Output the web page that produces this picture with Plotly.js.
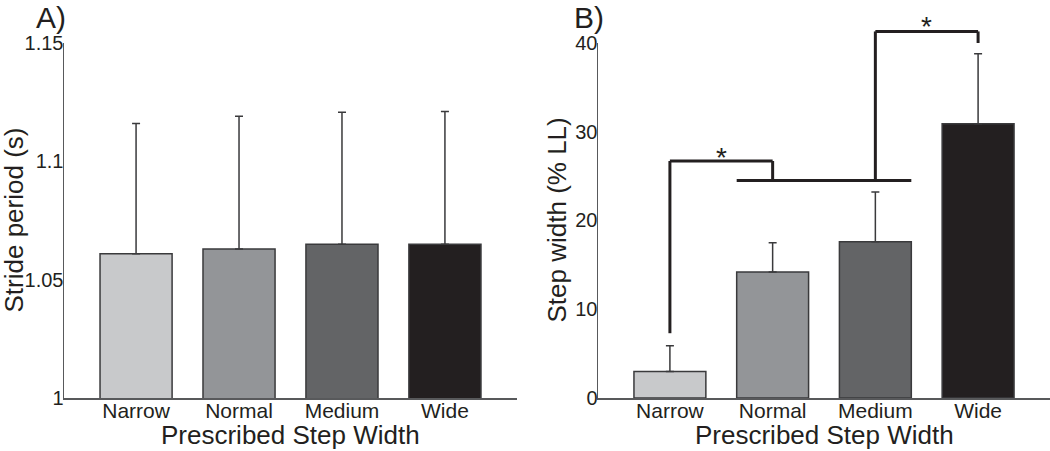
<!DOCTYPE html>
<html>
<head>
<meta charset="utf-8">
<script src="https://cdn.plot.ly/plotly-3.0.1.min.js"></script>
<style>html,body{margin:0;padding:0;background:#fff;}#chart{width:1050px;height:451px;}</style>
</head>
<body>
<div id="chart"></div>
<script>
// ---- data ----
var categories = ['Narrow', 'Normal', 'Medium', 'Wide'];
var barColors = ['#c8c9cb', '#939598', '#636466', '#231f20'];

var stridePeriod = [1.061, 1.063, 1.065, 1.065];
var stridePeriodSD = [0.055, 0.056, 0.0557, 0.056];

var stepWidth = [3.0, 14.2, 17.6, 30.9];
var stepWidthSD = [2.9, 3.3, 5.6, 7.9];

var strideTicks = [1, 1.05, 1.1, 1.15];
var strideTickText = ['1', '1.05', '1.1', '1.15'];
var stepTicks = [0, 10, 20, 30, 40];

// significance brackets (category index, value in % LL)
var bracket1X = [0, 0, 1, 1];
var bracket1Y = [7.3, 26.7, 26.7, 24.5];
var groupLineX = [0.65, 2.35];
var groupLineY = [24.5, 24.5];
var bracket2X = [2, 2, 3, 3];
var bracket2Y = [24.5, 41.3, 41.3, 40.0];
var starX = [0.5, 2.5];
var starY = [27.9, 42.6];

// ---- chart ----
var FONT = 'Liberation Sans, Arial, Helvetica, sans-serif';
var TXT = '#231f20';
var stepMax = 40;
var Y_DOMAIN = [0.1175, 0.9047];
var XA_DOMAIN = [64 / 1050, 517 / 1050];
var XB_DOMAIN = [598 / 1050, 1];

function zeros(n) { var a = []; for (var i = 0; i < n; i++) a.push(0); return a; }

function barTrace(y, err, xa, ya) {
  return {
    type: 'bar',
    x: categories,
    y: y,
    xaxis: xa, yaxis: ya,
    width: 0.7,
    marker: { color: barColors, line: { color: '#3a3a3c', width: 1.5 } },
    error_y: {
      type: 'data', symmetric: false, array: err, arrayminus: zeros(err.length),
      color: '#3a3a3c', thickness: 1.5, width: 4
    },
    showlegend: false,
    hoverinfo: 'x+y'
  };
}

var traces = [
  barTrace(stridePeriod, stridePeriodSD, 'x', 'y'),
  barTrace(stepWidth, stepWidthSD, 'x2', 'y2')
];

var shapes = [];
function addPolyline(xs, ys) {
  for (var i = 0; i < xs.length - 1; i++) {
    shapes.push({
      type: 'line', xref: 'x2', yref: 'y2 domain',
      x0: xs[i], x1: xs[i + 1], y0: ys[i] / stepMax, y1: ys[i + 1] / stepMax,
      line: { color: TXT, width: 3 }, layer: 'above'
    });
  }
}
addPolyline(bracket1X, bracket1Y);
addPolyline(groupLineX, groupLineY);
addPolyline(bracket2X, bracket2Y);

var annotations = [];
for (var i = 0; i < starX.length; i++) {
  annotations.push({
    text: '*', xref: 'x2', yref: 'y2 domain', x: starX[i], y: starY[i] / stepMax,
    showarrow: false, xanchor: 'center', yanchor: 'middle', yshift: -7,
    font: { family: FONT, size: 28, color: TXT }
  });
}
function panelLabel(text, x) {
  return { text: text, xref: 'paper', yref: 'paper', x: x, y: 1, borderpad: 0,
    xanchor: 'left', yanchor: 'top', showarrow: false, font: { family: FONT, size: 30, color: TXT } };
}
annotations.push(panelLabel('A)', 0.0333));
annotations.push(panelLabel('B)', 0.5454));

function xTitle(domain) {
  return { text: 'Prescribed Step Width', xref: 'paper', yref: 'paper',
    x: (domain[0] + domain[1]) / 2, y: 1 - 435 / 451, xanchor: 'center', yanchor: 'middle',
    showarrow: false, borderpad: 0, font: { family: FONT, size: 26, color: TXT } };
}
function yTitle(text, xPx) {
  return { text: text, xref: 'paper', yref: 'paper', textangle: -90,
    x: xPx / 1050, y: (Y_DOMAIN[0] + Y_DOMAIN[1]) / 2, xanchor: 'center', yanchor: 'middle',
    showarrow: false, borderpad: 0, font: { family: FONT, size: 26, color: TXT } };
}
annotations.push(xTitle(XA_DOMAIN));
annotations.push(xTitle(XB_DOMAIN));
annotations.push(yTitle('Stride period (s)', 14));
annotations.push(yTitle('Step width (% LL)', 557));

function xAxis(domain, anchor) {
  return {
    domain: domain, anchor: anchor, type: 'category',
    range: [-0.7, 3.7], showline: true, linecolor: '#58595b', linewidth: 1.5,
    showgrid: false, zeroline: false, ticks: '', ticklen: 0, ticklabelstandoff: -7,
    fixedrange: true,
    tickfont: { family: FONT, size: 21, color: TXT }
  };
}
function yAxis(anchor, range, tickvals, ticktext) {
  return {
    domain: Y_DOMAIN, anchor: anchor, range: range,
    tickmode: 'array', tickvals: tickvals, ticktext: ticktext,
    showline: true, linecolor: '#58595b', linewidth: 1.5,
    showgrid: false, zeroline: false, ticks: '', ticklen: 0, ticklabelstandoff: -5,
    fixedrange: true,
    tickfont: { family: FONT, size: 20, color: TXT }
  };
}

var layout = {
  width: 1050, height: 451,
  margin: { l: 0, r: 0, t: 0, b: 0 },
  paper_bgcolor: '#ffffff', plot_bgcolor: 'rgba(0,0,0,0)',
  font: { family: FONT, color: TXT },
  showlegend: false,
  xaxis: xAxis(XA_DOMAIN, 'y'),
  yaxis: yAxis('x', [1, 1.15], strideTicks, strideTickText),
  xaxis2: xAxis(XB_DOMAIN, 'y2'),
  yaxis2: yAxis('x2', [0, stepMax], stepTicks, stepTicks.map(String)),
  shapes: shapes,
  annotations: annotations
};

Plotly.newPlot('chart', traces, layout, { displayModeBar: false, staticPlot: true });
</script>
</body>
</html>
